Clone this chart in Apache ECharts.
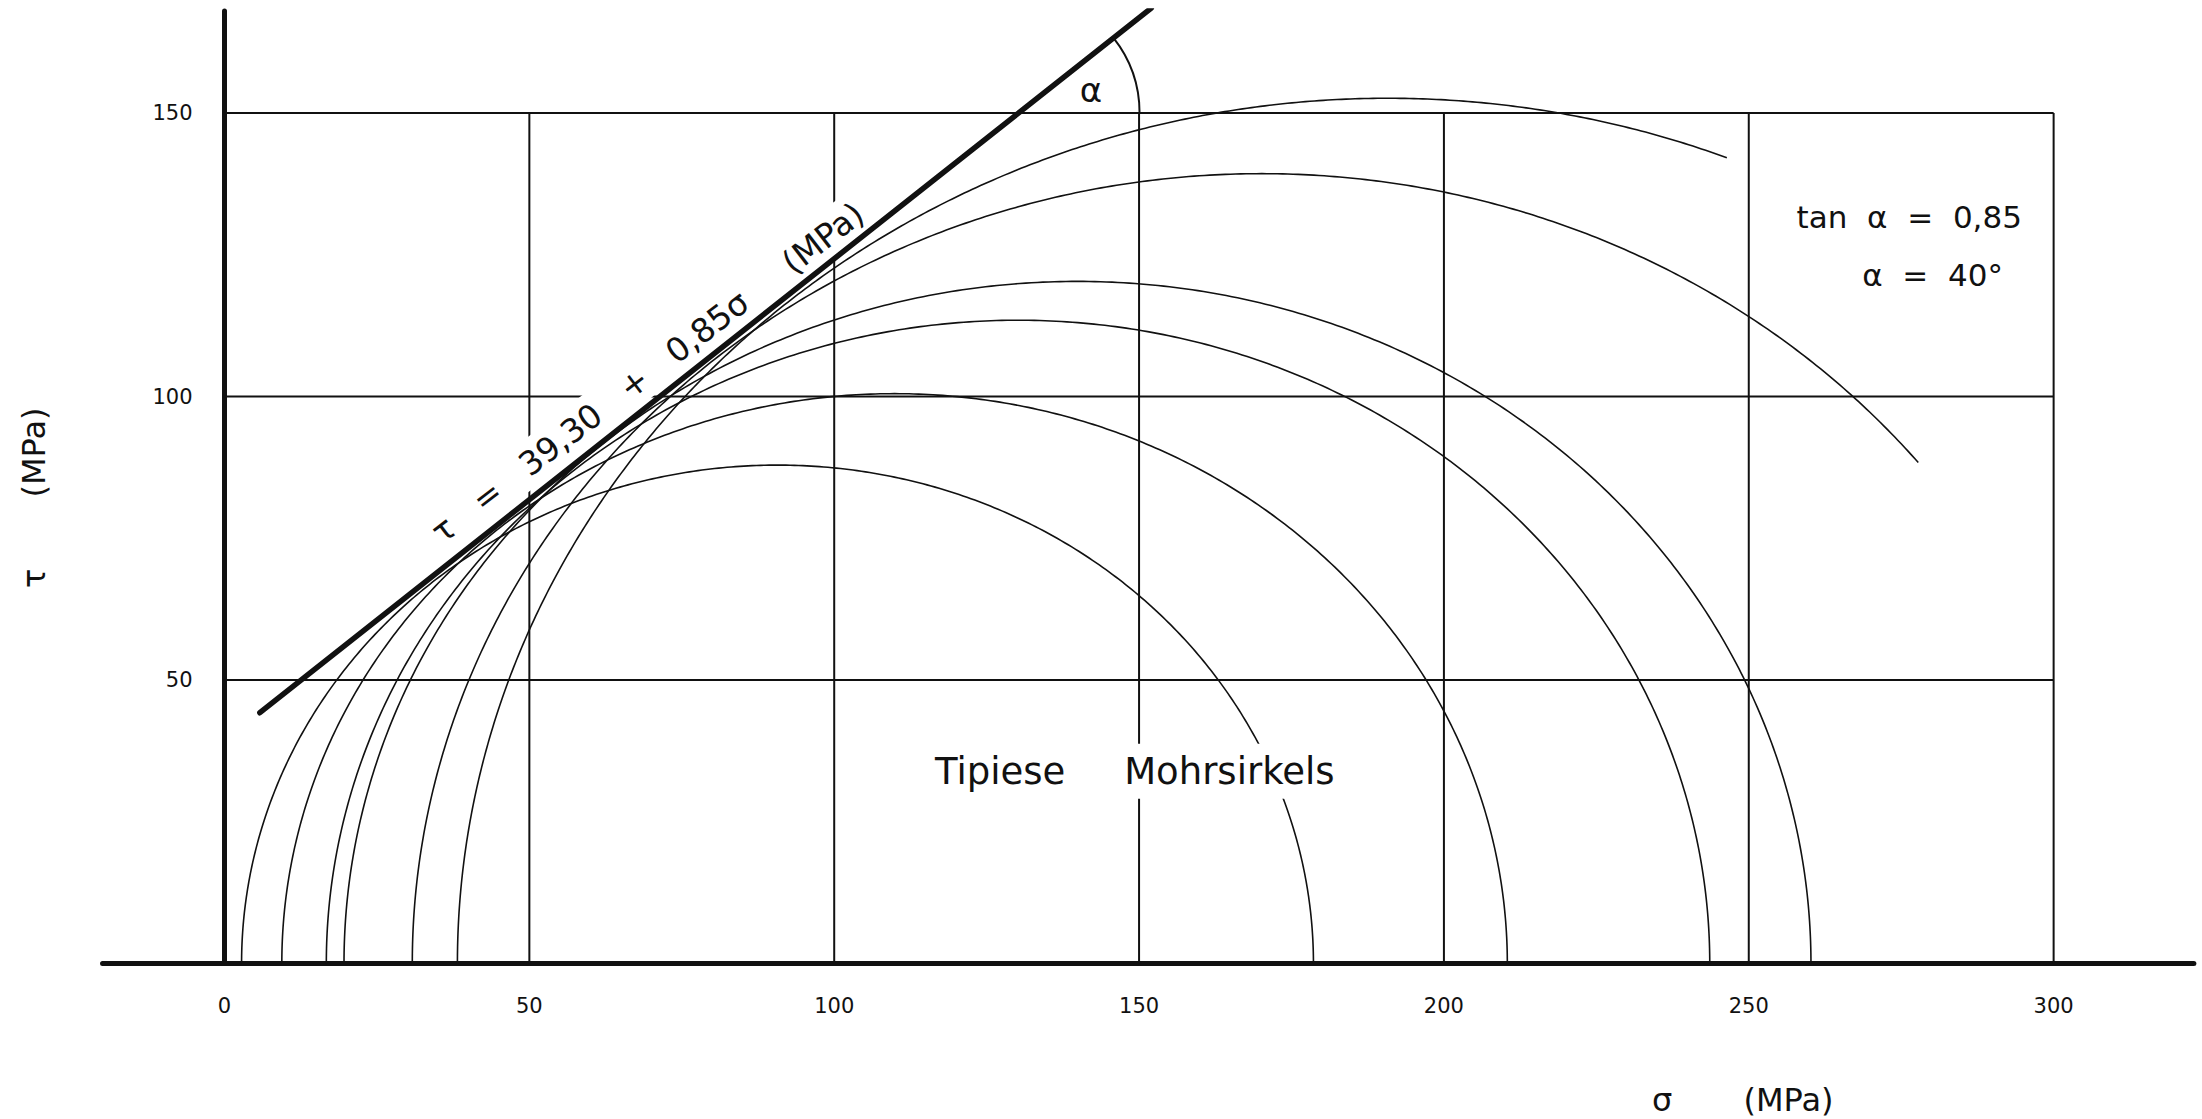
<!DOCTYPE html>
<html>
<head>
<meta charset="utf-8">
<title>Tipiese Mohrsirkels</title>
<script src="https://cdn.jsdelivr.net/npm/echarts@6/dist/echarts.min.js"></script>
<style>
  html, body { margin: 0; padding: 0; background: #fff; }
  #chart { width: 2202px; height: 1119px; }
</style>
</head>
<body>
<div id="chart"></div>
<script>
// Principal stresses of each test (MPa): σ3 = minor, σ1 = major
const sigma3 = [2.8, 9.4, 16.7, 19.6, 30.8, 38.2];
const sigma1 = [178.6, 210.4, 243.6, 260.2, 309.4, 343.4];
// σ where the drawn part of a circle stops (null: drawn down to the σ axis)
const arcStop = [null, null, null, null, 277.8, 246.4];

// Coulomb envelope τ = c + tanα·σ and the σ range it is drawn over
const cohesion = 39.30;
const tanAlpha = 0.85;
const envelopeSigma = [5.8, 152];

// Tick labels
const xTicks = [0, 50, 100, 150, 200, 250, 300];
const yTicks = [50, 100, 150];

// axis extents
const sigmaMin = -20, sigmaMax = 323, tauMax = 168;

const INK = '#111';
const FONT = '"DejaVu Sans", "Noto Sans", sans-serif';
const comma = v => String(v).replace('.', ',');

const frameTop = yTicks[yTicks.length - 1];
const frameRight = xTicks[xTicks.length - 1];
const alphaDeg = Math.round(Math.atan(tanAlpha) * 180 / Math.PI);

// plot area
const W = 2202, H = 1119;
const gridBox = { left: 102.56, right: 8.14, top: 10.94, bottom: 155.5 };
const pxPerSigma = (W - gridBox.left - gridBox.right) / (sigmaMax - sigmaMin);

function segment(points, width, z, cap) {
  return {
    type: 'line', data: points, symbol: 'none', silent: true, animation: false, z: z,
    lineStyle: { color: INK, width: width, cap: cap || 'butt' }
  };
}

const series = [];

// grid frame: horizontal lines at the τ ticks, vertical lines at the σ ticks
yTicks.forEach(t => series.push(segment([[0, t], [frameRight, t]], 2, 1)));
xTicks.slice(1).forEach(s => series.push(segment([[s, 0], [s, frameTop]], 2, 1)));

// failure envelope
series.push(segment(envelopeSigma.map(s => [s, cohesion + tanAlpha * s]), 5.5, 3, 'round'));

// Mohr circles (upper halves), drawn through the axis scales
series.push({
  type: 'custom', z: 3, silent: true, animation: false, clip: false,
  data: sigma3.map((s3, i) => [s3, sigma1[i], arcStop[i] == null ? sigma1[i] : arcStop[i]]),
  encode: { x: [0, 1, 2] },
  renderItem(params, api) {
    const s3 = api.value(0), s1 = api.value(1), stop = api.value(2);
    const c = (s1 + s3) / 2, r = (s1 - s3) / 2;
    const end = Math.acos(Math.max(-1, Math.min(1, (stop - c) / r)));
    const pts = [];
    const n = 400;
    for (let k = 0; k <= n; k++) {
      const th = Math.PI - (Math.PI - end) * k / n;
      pts.push(api.coord([c + r * Math.cos(th), r * Math.sin(th)]));
    }
    return {
      type: 'polyline', shape: { points: pts },
      style: { stroke: INK, lineWidth: 1.6, fill: null }
    };
  }
});

// angle α between the envelope and the τ = 150 line
series.push({
  type: 'custom', z: 3, silent: true, animation: false, clip: false,
  data: [[(frameTop - cohesion) / tanAlpha, frameTop]],
  renderItem(params, api) {
    const s = api.value(0), t = api.value(1);
    const p0 = api.coord([s, t]);
    const p1 = api.coord([s + 10, t + 10 * tanAlpha]);
    const ang = Math.atan2(p1[1] - p0[1], p1[0] - p0[0]);
    return {
      type: 'arc',
      shape: { cx: p0[0], cy: p0[1], r: 121, startAngle: ang, endAngle: 0, clockwise: true },
      style: { stroke: INK, lineWidth: 2, fill: null }
    };
  }
});

function note(value, text, style) {
  return {
    value: value,
    label: Object.assign({
      show: true, formatter: text, position: 'inside', color: INK,
      fontFamily: FONT, align: 'center', verticalAlign: 'middle'
    }, style)
  };
}

const noteItem = { color: 'transparent', opacity: 1 };

// envelope equation, written along the line (its white box cuts the grid lines)
series.push({
  type: 'scatter', z: 2, silent: true, animation: false, symbolSize: 1,
  itemStyle: noteItem,
  data: [
    note([69.4, 104.2],
      'τ   =   ' + comma(cohesion.toFixed(2)) + '   +   ' + comma(tanAlpha) + 'σ     (MPa)',
      { fontSize: 33, lineHeight: 36, rotate: 37.5, backgroundColor: '#fff', padding: [4, 8] })
  ]
});

// other annotations
series.push({
  type: 'scatter', z: 5, silent: true, animation: false, symbolSize: 1,
  itemStyle: noteItem,
  data: [
    note([142.1, 154.1], 'α', { fontSize: 34 }),
    note([294.8, 131.7], 'tan  α  =  ' + comma(tanAlpha), { fontSize: 31, align: 'right' }),
    note([268.6, 121.4], 'α  =  ' + alphaDeg + '°', { fontSize: 31, align: 'left' }),
    note([149.3, 33.9], 'Tipiese     Mohrsirkels',
      { fontSize: 37, lineHeight: 38, backgroundColor: '#fff', padding: [5, 8, 12, 8] })
  ]
});

const chart = echarts.init(document.getElementById('chart'), null, { renderer: 'svg', width: W, height: H });

chart.setOption({
  backgroundColor: '#fff',
  animation: false,
  grid: Object.assign({ containLabel: false, outerBoundsMode: 'none' }, gridBox),
  xAxis: {
    type: 'value', min: sigmaMin, max: sigmaMax,
    axisLine: { onZero: true, lineStyle: { color: INK, width: 5 } },
    axisTick: { show: false },
    splitLine: { show: false },
    axisLabel: {
      customValues: xTicks, color: INK, fontSize: 21, fontFamily: FONT,
      margin: 42, verticalAlign: 'middle'
    }
  },
  yAxis: {
    type: 'value', min: 0, max: tauMax,
    // the τ axis stands at σ = 0
    offset: sigmaMin * pxPerSigma,
    axisLine: { onZero: false, lineStyle: { color: INK, width: 5 } },
    axisTick: { show: false },
    splitLine: { show: false },
    axisLabel: {
      customValues: yTicks, color: INK, fontSize: 21, fontFamily: FONT, margin: 32
    }
  },
  graphic: [
    {
      type: 'text', x: 1652, y: 1100, silent: true,
      style: { text: 'σ       (MPa)', fill: INK, font: '32px "DejaVu Sans"', align: 'left', verticalAlign: 'middle' }
    },
    {
      type: 'text', x: 34, y: 588, rotation: Math.PI / 2, silent: true,
      style: { text: 'τ       (MPa)', fill: INK, font: '32px "DejaVu Sans"', align: 'left', verticalAlign: 'middle' }
    }
  ],
  series: series
});
</script>
</body>
</html>
